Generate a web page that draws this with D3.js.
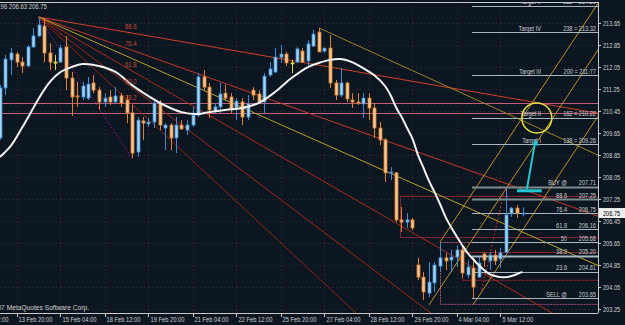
<!DOCTYPE html>
<html>
<head>
<meta charset="utf-8">
<script src="https://cdn.jsdelivr.net/npm/d3@7"></script>
<style>
  body { margin: 0; background: #0c1620; }
  svg { display: block; font-family: "Liberation Sans", Arial, sans-serif; }
</style>
</head>
<body>
<svg id="chart" width="625" height="325"></svg>
<script>
// ---- data (EURJPY H4) ----
const opens  = [209.48,211.30,212.32,212.53,212.24,212.10,212.79,213.19,213.55,212.57,212.24,212.24,212.79,211.66,211.01,210.97,210.93,211.48,211.22,210.79,
                210.97,210.79,211.01,210.86,210.39,208.97,210.10,209.99,210.06,210.75,209.84,209.95,209.48,209.95,209.77,209.95,210.31,211.70,211.33,210.46,
                210.61,211.11,210.97,210.57,210.79,210.24,211.22,211.08,210.79,211.77,211.88,212.42,212.53,212.21,212.24,212.64,212.28,212.82,213.33,212.64,
                212.75,211.48,211.04,211.48,210.86,210.79,210.72,210.93,210.57,209.84,209.41,208.21,208.21,206.50,206.42,206.50,204.86,204.42,203.84,204.21,
                204.82,205.12,205.04,205.15,205.41,204.50,204.75,204.42,205.26,205.01,205.22,205.08,205.33,206.72,206.93,206.72];
const highs  = [211.41,212.50,212.75,212.61,212.42,212.86,213.48,213.88,213.84,212.93,212.50,212.86,213.19,211.88,211.52,211.52,211.70,211.77,211.33,211.11,
                211.22,211.33,211.11,211.04,210.68,210.24,210.24,210.21,210.86,210.86,210.02,210.02,210.24,210.13,210.13,210.61,211.84,211.95,211.48,210.75,
                211.48,211.41,211.11,210.93,210.93,211.04,211.33,211.22,211.84,212.24,212.75,212.86,212.61,212.32,212.79,212.75,213.04,213.41,213.48,212.75,
                213.22,211.59,212.02,211.52,211.11,211.11,211.11,211.11,210.75,210.06,209.48,208.42,208.24,206.97,206.75,206.57,205.12,204.61,204.97,204.97,
                205.70,205.30,205.41,205.59,205.52,205.04,205.04,205.15,205.33,205.33,205.41,205.48,207.66,206.97,207.04,206.96];
const lows   = [209.41,211.04,211.77,212.06,211.84,212.06,212.75,213.15,212.24,211.95,211.95,212.21,211.22,210.28,210.61,210.86,210.86,211.11,210.50,210.61,
                210.68,210.75,210.61,210.02,208.75,208.79,209.41,209.88,209.84,209.77,209.04,209.04,208.93,209.77,209.59,209.88,210.24,211.22,210.21,210.39,
                210.39,210.86,210.39,210.13,209.95,210.13,210.86,210.75,210.39,211.70,211.84,212.21,212.10,211.84,212.21,212.21,212.06,212.79,212.61,212.57,
                211.30,210.86,210.97,210.79,210.57,210.68,210.21,210.13,209.48,209.22,207.88,207.95,206.42,206.06,206.21,206.13,204.32,203.59,203.70,203.88,
                204.61,204.68,204.61,204.79,204.39,204.39,203.66,204.39,204.79,204.68,204.86,204.75,205.30,206.61,206.57,206.63];
const closes = [211.30,212.35,212.57,212.24,212.10,212.79,213.19,213.59,212.57,212.24,212.24,212.75,211.66,210.97,210.97,211.37,211.44,211.22,210.79,210.93,
                210.79,211.01,210.75,210.39,208.93,210.13,210.02,210.06,210.75,209.95,209.95,209.48,209.95,209.81,209.95,210.31,211.70,211.33,210.50,210.61,
                211.08,210.93,210.50,210.82,210.24,210.72,211.04,210.79,211.73,211.99,212.42,212.53,212.21,212.21,212.72,212.24,212.90,213.26,212.61,212.75,
                211.48,211.04,211.48,210.90,210.79,210.75,210.93,210.57,209.84,209.41,208.21,208.24,206.50,206.42,206.50,206.21,204.42,203.88,204.24,204.86,
                205.12,205.01,205.15,205.41,204.57,204.79,204.06,204.93,205.04,205.22,205.01,205.30,206.68,206.93,206.75,206.75];

// white moving average, read at a few bars
const maBars   = [0,2,4,6,7,9,11,13,15,18,21,24,27,30,33,36,38,41,44,47,50,53,56,58,60,62,64,66,68,70,71,72,73,74,75,76,77,78,79,80,81,82,83,84,85,86,87,88,89,90,91,92,93,94,95];
const maValues = [208.79,209.20,209.85,210.55,210.90,211.50,211.88,212.06,212.17,212.10,211.88,211.40,211.00,210.66,210.42,210.35,210.42,210.50,210.57,210.75,
                  211.15,211.66,212.06,212.21,212.32,212.35,212.24,212.02,211.77,211.37,211.04,210.60,210.25,209.85,209.45,208.86,208.39,207.92,207.51,207.08,
                  206.61,206.24,205.91,205.59,205.30,205.08,204.86,204.68,204.53,204.46,204.42,204.42,204.46,204.53,204.61];

const priceTicks = [213.65,212.85,212.05,211.25,210.45,209.65,208.85,208.05,207.25,206.45,205.65,204.85,204.05,203.25];
const timeBars   = [-5,3,11,19,27,35,43,51,59,67,75,83,91];
const timeLabels = ["12 Feb 12:00","13 Feb 20:00","15 Feb 04:00","18 Feb 12:00","19 Feb 20:00","21 Feb 04:00","22 Feb 12:00",
                    "25 Feb 20:00","27 Feb 04:00","28 Feb 12:00","29 Feb 20:00","4 Mar 04:00","5 Mar 12:00"];

// fibonacci fan from the 13 Feb high to the 15 Feb low
const fanStart = { bar: 7, price: 213.88 };
const fanEnd   = { bar: 24, price: 208.75 };
const fanLevels = [88.6, 76.4, 61.8, 50.0, 38.2];
const fanColors = ["#d0402a", "#c4382a", "#a82c1e", "#9c281c", "#8c2418"];

// trend lines: [bar1, price1, bar2, price2, color]
const trendLines = [
  [7, 213.88, 60, 209.17, "#b8a428"],
  [58, 213.48, 75, 211.93, "#9c8424"],
  [78, 203.41, 100, 210.05, "#c09026"],
  [80, 205.70, 100, 211.74, "#c09026"],
  [86, 203.41, 106, 209.45, "#c09026"]
];

// target / fibo levels drawn at the right
const levelLeft  = ["Target V","Target IV","Target III","Target II","Target I","BUY @","88.6","76.4","61.8","50","38.2","23.6","SELL @"];
const levelRight = ["262 = 214.29","238 = 213.32","200 = 211.77","162 = 210.22","138 = 209.26","207.71","207.25","206.75","206.16","205.68","205.20","204.61","203.65"];
const levelPrices = [214.29,213.32,211.77,210.22,209.26,207.71,207.25,206.75,206.16,205.68,205.20,204.61,203.65];

const pinkLevels = [210.74, 210.38];
const lastPrice = 206.75;
const lastBar = { high: 206.96, low: 206.63, close: 206.75 };

// ---- layout ----
const W = 625, H = 325;
const plotRight = 598, plotTop = 2, plotBottom = 313;
const barStep = 5.5;

const x = d3.scaleLinear().domain([0, plotRight / barStep]).range([0, plotRight]);
const y = d3.scaleLinear().domain([203.25, 213.65]).range([309.3, 23.3]);

const svg = d3.select("#chart");
svg.append("rect").attr("width", W).attr("height", H).attr("fill", "#0c1620");

svg.append("defs").append("clipPath").attr("id", "plot")
  .append("rect").attr("x", 0).attr("y", plotTop).attr("width", plotRight).attr("height", plotBottom - plotTop);

const plot = svg.append("g").attr("clip-path", "url(#plot)");

// squeeze small text the way the terminal font looks
function squeeze(sel, f) {
  sel.each(function () {
    const w = this.getComputedTextLength();
    d3.select(this).attr("textLength", w * f).attr("lengthAdjust", "spacingAndGlyphs");
  });
}

// grid
plot.selectAll(".vgrid").data(timeBars).enter().append("line")
  .attr("x1", d => Math.round(x(d)) + 0.5).attr("x2", d => Math.round(x(d)) + 0.5)
  .attr("y1", plotTop).attr("y2", plotBottom)
  .attr("stroke", "#33332c").attr("stroke-dasharray", "1,3");
plot.selectAll(".hgrid").data(priceTicks).enter().append("line")
  .attr("x1", 0).attr("x2", plotRight)
  .attr("y1", d => Math.round(y(d)) + 0.5).attr("y2", d => Math.round(y(d)) + 0.5)
  .attr("stroke", "#33332c").attr("stroke-dasharray", "1,3");

// full width pink lines
plot.selectAll(".pink").data(pinkLevels).enter().append("line")
  .attr("x1", 0).attr("x2", plotRight)
  .attr("y1", d => Math.round(y(d)) + 0.5).attr("y2", d => Math.round(y(d)) + 0.5)
  .attr("stroke", "#c0607c").attr("stroke-width", 1);

// boxes near the right
const boxes = [
  [72.7, 207.37, 120, 205.88, "#7a2434", null],
  [80, 205.70, 120, 203.45, "#b04c8c", "2,1"],
  [84, 205.33, 120, 204.32, "#7a2434", null]
];
plot.selectAll(".box").data(boxes).enter().append("rect")
  .attr("x", d => Math.round(x(d[0])) + 0.5).attr("y", d => Math.round(y(d[1])) + 0.5)
  .attr("width", d => x(d[2]) - x(d[0])).attr("height", d => y(d[3]) - y(d[1]))
  .attr("fill", "none").attr("stroke", d => d[4]).attr("stroke-dasharray", d => d[5]);

// fan
const extendTo = 200;
function rayEnd(b1, p1, b2, p2) {
  return [extendTo, p1 + (p2 - p1) * (extendTo - b1) / (b2 - b1)];
}
const fanPrices = fanLevels.map(lv => fanEnd.price + lv / 100 * (fanStart.price - fanEnd.price));
fanPrices.forEach((p, k) => {
  const e = rayEnd(fanStart.bar, fanStart.price, fanEnd.bar, p);
  plot.append("line")
    .attr("x1", x(fanStart.bar)).attr("y1", y(fanStart.price))
    .attr("x2", x(e[0])).attr("y2", y(e[1]))
    .attr("stroke", fanColors[k]).attr("stroke-width", 1);
});
plot.append("line")
  .attr("x1", x(fanStart.bar)).attr("y1", y(fanStart.price))
  .attr("x2", x(fanEnd.bar)).attr("y2", y(fanEnd.price))
  .attr("stroke", "#c020c0").attr("stroke-dasharray", "1,2");

// trend lines
trendLines.forEach(t => {
  const e = rayEnd(t[0], t[1], t[2], t[3]);
  plot.append("line")
    .attr("x1", x(t[0])).attr("y1", y(t[1]))
    .attr("x2", x(e[0])).attr("y2", y(e[1]))
    .attr("stroke", t[4]).attr("stroke-width", 1);
});

// red dotted line up to the buy level
plot.append("line")
  .attr("x1", x(87.6)).attr("y1", y(203.95)).attr("x2", x(91.8)).attr("y2", y(207.66))
  .attr("stroke", "#d02a2a").attr("stroke-dasharray", "2,2");

// target levels
const lv = plot.selectAll(".lvl").data(levelPrices).enter().append("g");
lv.append("line")
  .attr("x1", 472).attr("x2", plotRight)
  .attr("y1", d => Math.round(y(d)) + 0.5).attr("y2", d => Math.round(y(d)) + 0.5)
  .attr("stroke", (d, i) => i === 5 || i === 6 ? "#7f8c8c" : "#a6b6be")
  .attr("stroke-width", (d, i) => i === 5 || i === 6 || i === 10 ? 2 : 1);
lv.append("text")
  .attr("x", 596).attr("y", d => y(d) - 1.5)
  .attr("text-anchor", "end").attr("fill", "#c8ced0").attr("font-size", 7)
  .text((d, i) => levelRight[i]).call(squeeze, 0.8);
lv.append("text")
  .attr("x", (d, i) => i < 5 ? 541 : 567).attr("y", d => y(d) - 1.5)
  .attr("text-anchor", "end").attr("fill", "#c8ced0").attr("font-size", 7)
  .text((d, i) => levelLeft[i]).call(squeeze, 0.8);

// candles
const bars = d3.range(opens.length);
const cg = plot.selectAll(".candle").data(bars).enter().append("g");
const colUp = "#3a8ad8", colDn = "#e0802c", colDoji = "#e0d840";
function candleColor(i) {
  if (Math.abs(opens[i] - closes[i]) < 0.005) return colDoji;
  return closes[i] > opens[i] ? colUp : colDn;
}
cg.append("line")
  .attr("x1", i => Math.round(x(i)) + 0.5).attr("x2", i => Math.round(x(i)) + 0.5)
  .attr("y1", i => y(highs[i])).attr("y2", i => y(lows[i]))
  .attr("stroke", candleColor);
cg.append("rect")
  .attr("x", i => Math.round(x(i)) - 1)
  .attr("y", i => y(Math.max(opens[i], closes[i])))
  .attr("width", 3)
  .attr("height", i => Math.max(1, Math.abs(y(opens[i]) - y(closes[i]))))
  .attr("fill", i => closes[i] > opens[i] ? "#a8d4f4" : (closes[i] < opens[i] ? "#f4c898" : colDoji))
  .attr("stroke", candleColor).attr("stroke-width", 0.8);

// moving average
const ma = maBars.map((b, k) => ({ b: b, v: maValues[k] }));
plot.append("path").datum(ma)
  .attr("d", d3.line().x(d => x(d.b)).y(d => y(d.v)).curve(d3.curveCatmullRom))
  .attr("fill", "none").attr("stroke", "#f4f4f4").attr("stroke-width", 2);

// fan labels on top
plot.selectAll(".fanlbl").data(fanPrices).enter().append("text")
  .attr("x", x(fanEnd.bar) - 7).attr("y", d => y(d) - 4)
  .attr("fill", "#c84a34").attr("font-size", 7).text((d, k) => fanLevels[k].toFixed(1))
  .call(squeeze, 0.85);

// cyan arrow
plot.append("line")
  .attr("x1", x(94)).attr("x2", x(98.5)).attr("y1", y(207.56)).attr("y2", y(207.56))
  .attr("stroke", "#20c8d4").attr("stroke-width", 3);
plot.append("line")
  .attr("x1", x(95.8)).attr("y1", y(207.62)).attr("x2", x(97.3)).attr("y2", y(209.35))
  .attr("stroke", "#20c8d4").attr("stroke-width", 2);
plot.append("path")
  .attr("d", `M${x(97.45)},${y(209.45)} l-3.5,6 l6,1 z`)
  .attr("fill", "#20c8d4");

// yellow circle round Target II
plot.append("circle")
  .attr("cx", x(97.6)).attr("cy", y(210.21)).attr("r", 15)
  .attr("fill", "none").attr("stroke", "#e8e040").attr("stroke-width", 1.5);

// frame
svg.append("line").attr("x1", 0).attr("x2", plotRight).attr("y1", plotTop + 0.5).attr("y2", plotTop + 0.5).attr("stroke", "#c8c8c8");
svg.append("line").attr("x1", 0).attr("x2", plotRight).attr("y1", plotBottom + 0.5).attr("y2", plotBottom + 0.5).attr("stroke", "#c8c8c8");
svg.append("line").attr("x1", plotRight + 0.5).attr("x2", plotRight + 0.5).attr("y1", plotTop).attr("y2", plotBottom).attr("stroke", "#c8c8c8");

// price axis
const ya = svg.append("g").selectAll(".pt").data(priceTicks).enter().append("g");
ya.append("line").attr("x1", plotRight).attr("x2", plotRight + 3)
  .attr("y1", d => Math.round(y(d)) + 0.5).attr("y2", d => Math.round(y(d)) + 0.5).attr("stroke", "#c8c8c8");
ya.append("text").attr("x", 603).attr("y", d => y(d) + 2.5)
  .attr("fill", "#d0d0d0").attr("font-size", 7).text(d => d.toFixed(2)).call(squeeze, 0.8);

svg.append("rect").attr("x", plotRight + 1).attr("y", y(lastPrice) - 5).attr("width", 26).attr("height", 10).attr("fill", "#f0f0f0");
svg.append("text").attr("x", 603).attr("y", y(lastPrice) + 2.5)
  .attr("fill", "#000").attr("font-size", 7).text(lastPrice.toFixed(2)).call(squeeze, 0.8);

// time axis
const xa = svg.append("g").selectAll(".tt").data(timeBars).enter().append("g");
xa.append("line").attr("x1", d => Math.round(x(d)) + 0.5).attr("x2", d => Math.round(x(d)) + 0.5)
  .attr("y1", plotBottom).attr("y2", plotBottom + 4).attr("stroke", "#c8c8c8");
xa.append("text").attr("x", d => x(d) + 2).attr("y", 322)
  .attr("fill", "#d0d0d0").attr("font-size", 7).text((d, i) => timeLabels[i]).call(squeeze, 0.82);

// header (high, low, close of the last bar) and copyright
svg.append("text").attr("x", -11).attr("y", 9).attr("fill", "#d0d0d0").attr("font-size", 7)
  .text([lastBar.high, lastBar.low, lastBar.close].map(v => v.toFixed(2)).join(" ")).call(squeeze, 0.85);
svg.append("text").attr("x", -10).attr("y", 310).attr("fill", "#d0d0d0").attr("font-size", 7)
  .text("2007 MetaQuotes Software Corp.").call(squeeze, 0.95);
</script>
</body>
</html>
